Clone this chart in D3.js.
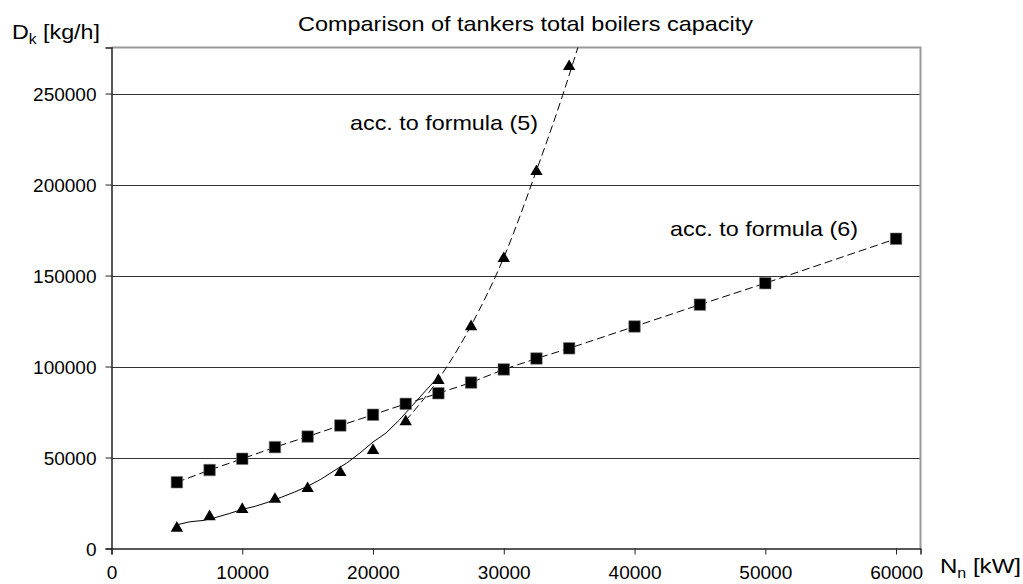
<!DOCTYPE html>
<html>
<head>
<meta charset="utf-8">
<script src="https://cdn.jsdelivr.net/npm/d3@7"></script>
<style>
  html, body { margin: 0; padding: 0; background: #fff; }
  svg { display: block; font-family: "Liberation Sans", Arial, sans-serif; }
</style>
</head>
<body>
<svg id="chart" width="1023" height="584"></svg>
<script>
// ---- data ----
const chartTitle = "Comparison of tankers total boilers capacity";
const xTicks = [0, 10000, 20000, 30000, 40000, 50000, 60000];
const yTicks = [0, 50000, 100000, 150000, 200000, 250000];

// formula (6) – squares
const f6X = [5000, 7500, 10000, 12500, 15000, 17500, 20000, 22500, 25000, 27500, 30000, 32500, 35000, 40000, 45000, 50000, 60000];
const f6Y = [36400, 43100, 49300, 55700, 61500, 67600, 73500, 79500, 85300, 91200, 98400, 104400, 110000, 122000, 134000, 145800, 170200];

// formula (5) – triangles
const f5X = [5000, 7500, 10000, 12500, 15000, 17500, 20000, 22500, 25000, 27500, 30000, 32500, 35000];
const f5Y = [11700, 18000, 22000, 27600, 33500, 42300, 54400, 70300, 92900, 122500, 159900, 207700, 265400];

// formula (5) – dashed trend curve (upper part)
const trend5X = [22500, 25000, 27500, 30000, 32500, 34500, 36000];
const trend5Y = [70300, 92900, 122500, 159900, 207700, 249000, 283000];

// solid line (lower part)
const solidX = [5000, 6000, 7000, 8000, 9000, 10000, 11000, 12000, 13000, 14000, 15000, 16000, 17000, 18000, 19000, 20000, 21000, 22000, 23000, 24000, 24700];
const solidY = [13000, 14700, 15400, 17100, 19200, 21500, 23200, 25500, 28200, 31000, 34200, 38000, 42600, 47000, 52500, 58500, 63500, 70500, 78500, 86500, 92000];

const label5 = "acc. to formula (5)";
const label6 = "acc. to formula (6)";

// ---- layout ----
const svg = d3.select("#chart");
const pL = 111.5, pR = 920.5, pT = 47.5, pB = 548.5;
const x = d3.scaleLinear().domain([0, 61870]).range([pL, pR]);
const y = d3.scaleLinear().domain([0, 275300]).range([pB, pT]);

const zip = (a, b) => a.map((v, i) => [v, b[i]]);

svg.append("defs").append("clipPath").attr("id", "clip")
  .append("rect").attr("x", pL).attr("y", pT).attr("width", pR - pL).attr("height", pB - pT);

// gridlines
svg.append("g")
  .selectAll("line").data(yTicks.filter(d => d > 0)).join("line")
  .attr("x1", pL).attr("x2", pR)
  .attr("y1", d => Math.round(y(d)) + 0.5).attr("y2", d => Math.round(y(d)) + 0.5)
  .attr("stroke", "#333").attr("stroke-width", 1);

// plot border (top / right, gray)
svg.append("path")
  .attr("d", `M${pL},${pT}H${pR}V${pB}`)
  .attr("fill", "none").attr("stroke", "#999").attr("stroke-width", 2);

// axes
const xAxis = d3.axisBottom(x).tickValues(xTicks).tickSize(6).tickPadding(11).tickFormat(d3.format("d"));
const yAxis = d3.axisLeft(y).tickValues(yTicks).tickSize(6).tickPadding(9).tickFormat(d3.format("d"));

const gx = svg.append("g").attr("transform", `translate(0,${pB})`).call(xAxis);
const gy = svg.append("g").attr("transform", `translate(${pL},0)`).call(yAxis);
[gx, gy].forEach(g => {
  g.select(".domain").attr("stroke", "#222").attr("stroke-width", 1.5);
  g.selectAll(".tick line").attr("stroke", "#222");
  g.selectAll(".tick text").attr("fill", "#000").style("font-size", "19px")
    .style("font-family", "'Liberation Sans', Arial, sans-serif");
});
gy.selectAll(".tick text").attr("dy", "0.35em");

const plot = svg.append("g").attr("clip-path", "url(#clip)");

// lines
const lineStraight = d3.line().x(d => x(d[0])).y(d => y(d[1]));
const lineCurve = d3.line().x(d => x(d[0])).y(d => y(d[1])).curve(d3.curveMonotoneX);
plot.append("path").datum(zip(f6X, f6Y))
  .attr("d", lineStraight).attr("fill", "none").attr("stroke", "#000").attr("stroke-width", 1)
  .attr("stroke-dasharray", "8,4");
plot.append("path").datum(zip(trend5X, trend5Y))
  .attr("d", lineCurve).attr("fill", "none").attr("stroke", "#000").attr("stroke-width", 1)
  .attr("stroke-dasharray", "8,4");
plot.append("path").datum(zip(solidX, solidY))
  .attr("d", lineStraight).attr("fill", "none").attr("stroke", "#000").attr("stroke-width", 1);

// markers
const sq = d3.symbol().type(d3.symbolSquare).size(132);
plot.append("g").selectAll("path").data(zip(f6X, f6Y)).join("path")
  .attr("d", sq).attr("transform", d => `translate(${x(d[0])},${y(d[1])})`)
  .attr("fill", "#000").attr("stroke", "#777").attr("stroke-width", 0.6);

const tri = d3.symbol().type(d3.symbolTriangle).size(66);
plot.append("g").selectAll("path").data(zip(f5X, f5Y)).join("path")
  .attr("d", tri).attr("transform", d => `translate(${x(d[0])},${y(d[1]) + 1})`)
  .attr("fill", "#000");

// texts (horizontally widened like the original)
svg.append("text").attr("x", 298).attr("y", 31).style("font-size", "21px")
  .attr("textLength", 455).attr("lengthAdjust", "spacingAndGlyphs").text(chartTitle);

const yl = svg.append("text").attr("x", 12).attr("y", 39).style("font-size", "21px")
  .attr("textLength", 88).attr("lengthAdjust", "spacingAndGlyphs");
yl.append("tspan").text("D");
yl.append("tspan").attr("dy", 5).style("font-size", "14px").text("k");
yl.append("tspan").attr("dy", -5).text(" [kg/h]");

const xl = svg.append("text").attr("x", 940).attr("y", 573).style("font-size", "21px")
  .attr("textLength", 81).attr("lengthAdjust", "spacingAndGlyphs");
xl.append("tspan").text("N");
xl.append("tspan").attr("dy", 5).style("font-size", "14px").text("n");
xl.append("tspan").attr("dy", -5).text(" [kW]");

svg.append("text").attr("x", 350).attr("y", 130).style("font-size", "21px")
  .attr("textLength", 188).attr("lengthAdjust", "spacingAndGlyphs").text(label5);
svg.append("text").attr("x", 670).attr("y", 236).style("font-size", "21px")
  .attr("textLength", 188).attr("lengthAdjust", "spacingAndGlyphs").text(label6);
</script>
</body>
</html>
